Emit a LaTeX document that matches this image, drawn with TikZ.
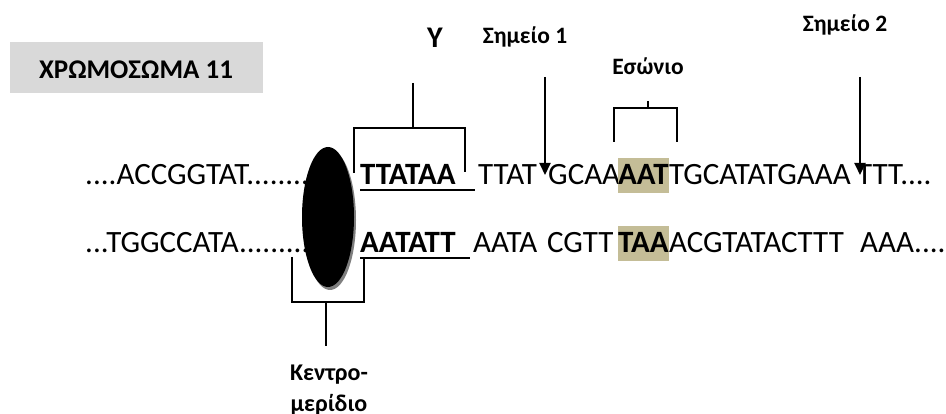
\documentclass[tikz,border=0pt]{standalone}
\usepackage{fontspec}
\setmainfont{Carlito}
\usepackage{tikz}
\usetikzlibrary{arrows.meta,positioning,calc,shapes.geometric}
\definecolor{boxgray}{HTML}{D9D9D9}
\definecolor{hlcolor}{HTML}{C4BD97}
\definecolor{shadowgray}{HTML}{7F7F7F}

\begin{document}
\begin{tikzpicture}[
    x=1pt, y=-1pt,
    seq/.style={font=\fontsize{31}{37}\selectfont, inner sep=0pt, anchor=base west},
    bseq/.style={seq, font=\fontsize{31}{37}\selectfont\bfseries},
    hl/.style={bseq, fill=hlcolor, text height=27pt, text depth=8pt, minimum width=50pt},
    lbl/.style={font=\fontsize{23.5}{28}\selectfont\bfseries, inner sep=0pt, anchor=base},
    brk/.style={line width=1.3pt},
    arr/.style={-{Triangle[length=12pt, width=11pt]}, line width=2pt},
    uline/.style={line width=2.2pt}
]
\useasboundingbox (0,0) rectangle (946,414);

% Title box
\node[fill=boxgray, minimum width=253pt, minimum height=51pt, inner sep=0pt,
      anchor=north west] (title) at (10,42) {};
\node[lbl, font=\fontsize{27}{32}\selectfont\bfseries] (titletxt) at (136,79) {ΧΡΩΜΟΣΩΜΑ 11};

% Upper strand
\node[seq] (r1a) at (85,185) {....ACCGGTAT.........};
\node[bseq] (r1b) at (360,185) {TTATAA};
\node[seq] (r1c) at (478,185) {TTAT};
\node[seq] (r1d) at (548,185) {GCAA};
\node[hl] (r1e) at (618,185) {AAT};
\node[seq] (r1f) at (r1e.base east) {TGCATATGAAA};
\node[seq] (r1g) at (857,185) {TTT....};

% Lower strand
\node[seq] (r2a) at (85,253) {...TGGCCATA.........};
\node[bseq] (r2b) at (360,253) {AATATT};
\node[seq] (r2c) at (473,253) {AATA};
\node[seq] (r2d) at (547,253) {CGTT};
\node[hl] (r2e) at (618,253) {TAA};
\node[seq] (r2f) at (r2e.base east) {ACGTATACTTT};
\node[seq] (r2g) at (860,253) {AAA.....};

% Underlines
\draw[uline] ($(r1b.base west)+(0,5)$) -- ++(115,0);
\draw[uline] ($(r2b.base west)+(0,5)$) -- ++(110,0);

% Centromere
\fill[shadowgray] (330,220) ellipse[x radius=26, y radius=70];
\node[ellipse, fill=black, minimum width=52pt, minimum height=140pt, inner sep=0pt] (centro) at (328,217) {};

% Y bracket
\node[lbl, font=\fontsize{30}{36}\selectfont\bfseries] (ylbl) at (435,48) {Y};
\coordinate (ytop) at (413,83);
\draw[brk] (354,173) -- (354,128) -- (465,128) -- (465,172);
\draw[brk] (ytop) -- (ytop |- 0,128);

% Intron bracket
\node[lbl] (intron) at (648,75) {Εσώνιο};
\coordinate (itop) at (648,101);
\draw[brk] (614,142) -- (614,108) -- (677,108) -- (677,142);
\draw[brk] (itop) -- (itop |- 0,108);

% Cut sites
\node[lbl] (site1) at (525,44) {Σημείο 1};
\node[lbl] (site2) at (845,32) {Σημείο 2};
\coordinate (s1top) at (545,77);
\coordinate (s1tip) at (545,175);
\coordinate (s2top) at (860,77);
\coordinate (s2tip) at (860,175);
\draw[arr] (s1top) -- (s1tip);
\draw[arr] (s2top) -- (s2tip);

% Centromere bracket
\draw[brk] (292,257) -- (292,302) -- (364,302) -- (364,257);
\coordinate (cbot) at (326,346);
\draw[brk] (cbot |- 0,302) -- (cbot);
\node[lbl, font=\fontsize{24}{31}\selectfont\bfseries, align=center, anchor=base] (ctxt) at (329,411) {Κεντρο-\\μερίδιο};

\end{tikzpicture}
\end{document}
